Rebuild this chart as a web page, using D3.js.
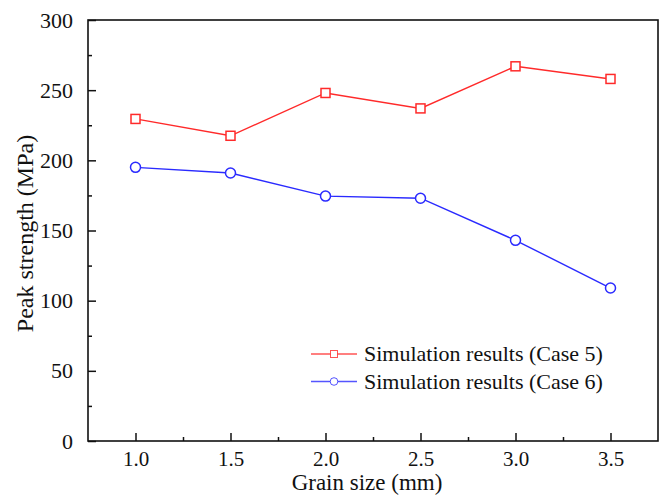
<!DOCTYPE html>
<html>
<head>
<meta charset="utf-8">
<script src="https://cdn.jsdelivr.net/npm/d3@7"></script>
<style>
  body { margin: 0; background: #fff; }
  svg text { font-family: "Liberation Serif", "Times New Roman", serif; fill: #111; }
</style>
</head>
<body>
<div id="chart"></div>
<script>
// Data
const grainSize = [1.0, 1.5, 2.0, 2.5, 3.0, 3.5];
const case5 = [229.5, 217.5, 248, 237, 267, 258];
const case6 = [195, 191, 174.5, 173, 143, 109];
const xTicks = [1.0, 1.5, 2.0, 2.5, 3.0, 3.5];
const yTicks = [0, 50, 100, 150, 200, 250, 300];

const W = 662, H = 495;
const margin = { top: 20, right: 4, bottom: 54, left: 88 };
const width = W - margin.left - margin.right,
      height = H - margin.top - margin.bottom;

const svg = d3.select("#chart").append("svg")
    .attr("width", W)
    .attr("height", H);

const g = svg.append("g")
    .attr("transform", `translate(${margin.left},${margin.top})`);

const x = d3.scaleLinear().domain([0.75, 3.75]).range([0, width]);
const y = d3.scaleLinear().domain([0, 300]).range([height, 0]);

// minor ticks (inward, short)
g.append("g")
    .attr("transform", `translate(0,${height})`)
    .call(d3.axisTop(x).tickValues(d3.range(1.25, 3.75, 0.5)).tickSize(4).tickFormat(""))
    .call(a => a.select(".domain").remove());
g.append("g")
    .call(d3.axisRight(y).tickValues(d3.range(25, 300, 50)).tickSize(4).tickFormat(""))
    .call(a => a.select(".domain").remove());

// major ticks, inward, labels outside
const xAxis = g.append("g")
    .attr("transform", `translate(0,${height})`)
    .call(d3.axisBottom(x).tickValues(xTicks).tickSizeInner(-8).tickSizeOuter(0)
        .tickPadding(10).tickFormat(d3.format(".1f")));
xAxis.select(".domain").remove();
xAxis.selectAll("text").style("font-size", "21px");

const yAxis = g.append("g")
    .call(d3.axisLeft(y).tickValues(yTicks).tickSizeInner(-8).tickSizeOuter(0)
        .tickPadding(15));
yAxis.select(".domain").remove();
yAxis.selectAll("text").style("font-size", "22px");

g.selectAll(".tick line").attr("stroke", "#111").attr("stroke-width", 1.5);

// frame
g.append("rect")
    .attr("width", width)
    .attr("height", height)
    .attr("fill", "none")
    .attr("stroke", "#111")
    .attr("stroke-width", 1.6);

// axis titles
svg.append("text")
    .attr("x", margin.left + width / 2 - 6)
    .attr("y", 490)
    .attr("text-anchor", "middle")
    .style("font-size", "23px")
    .text("Grain size (mm)");

svg.append("text")
    .attr("transform", `translate(33,${margin.top + height / 2 + 3}) rotate(-90)`)
    .attr("text-anchor", "middle")
    .style("font-size", "24px")
    .text("Peak strength (MPa)");

const series = [
    { name: "Simulation results (Case 5)", values: case5, color: "#ff2a2a", shape: "square" },
    { name: "Simulation results (Case 6)", values: case6, color: "#2a2aff", shape: "circle" }
];

const line = d3.line()
    .x((d, i) => x(grainSize[i]))
    .y(d => y(d));

series.forEach(s => {
    g.append("path")
        .datum(s.values)
        .attr("d", line)
        .attr("fill", "none")
        .attr("stroke", s.color)
        .attr("stroke-width", 1.4);

    if (s.shape === "square") {
        g.selectAll(null)
            .data(s.values)
            .enter().append("rect")
            .attr("x", (d, i) => x(grainSize[i]) - 4.5)
            .attr("y", d => y(d) - 4.5)
            .attr("width", 9)
            .attr("height", 9)
            .attr("fill", "#fff")
            .attr("stroke", s.color)
            .attr("stroke-width", 1.5);
    } else {
        g.selectAll(null)
            .data(s.values)
            .enter().append("circle")
            .attr("cx", (d, i) => x(grainSize[i]))
            .attr("cy", d => y(d))
            .attr("r", 5)
            .attr("fill", "#fff")
            .attr("stroke", s.color)
            .attr("stroke-width", 1.5);
    }
});

// legend
const legend = svg.selectAll(".legend")
    .data(series)
    .enter().append("g")
    .attr("class", "legend")
    .attr("transform", (d, i) => `translate(311,${354 + i * 27.5})`);

legend.append("line")
    .attr("x1", 0).attr("x2", 46)
    .attr("stroke", d => d.color)
    .attr("stroke-opacity", 0.8)
    .attr("stroke-width", 1.4);

legend.each(function(d) {
    const el = d3.select(this);
    if (d.shape === "square") {
        el.append("rect")
            .attr("x", 19.5).attr("y", -3.5)
            .attr("width", 7).attr("height", 7)
            .attr("fill", "#fff")
            .attr("stroke", d.color)
            .attr("stroke-opacity", 0.8);
    } else {
        el.append("circle")
            .attr("cx", 23).attr("r", 3.8)
            .attr("fill", "#fff")
            .attr("stroke", d.color)
            .attr("stroke-opacity", 0.8);
    }
});

legend.append("text")
    .attr("x", 53)
    .attr("y", 7)
    .style("font-size", "22px")
    .text(d => d.name);
</script>
</body>
</html>
